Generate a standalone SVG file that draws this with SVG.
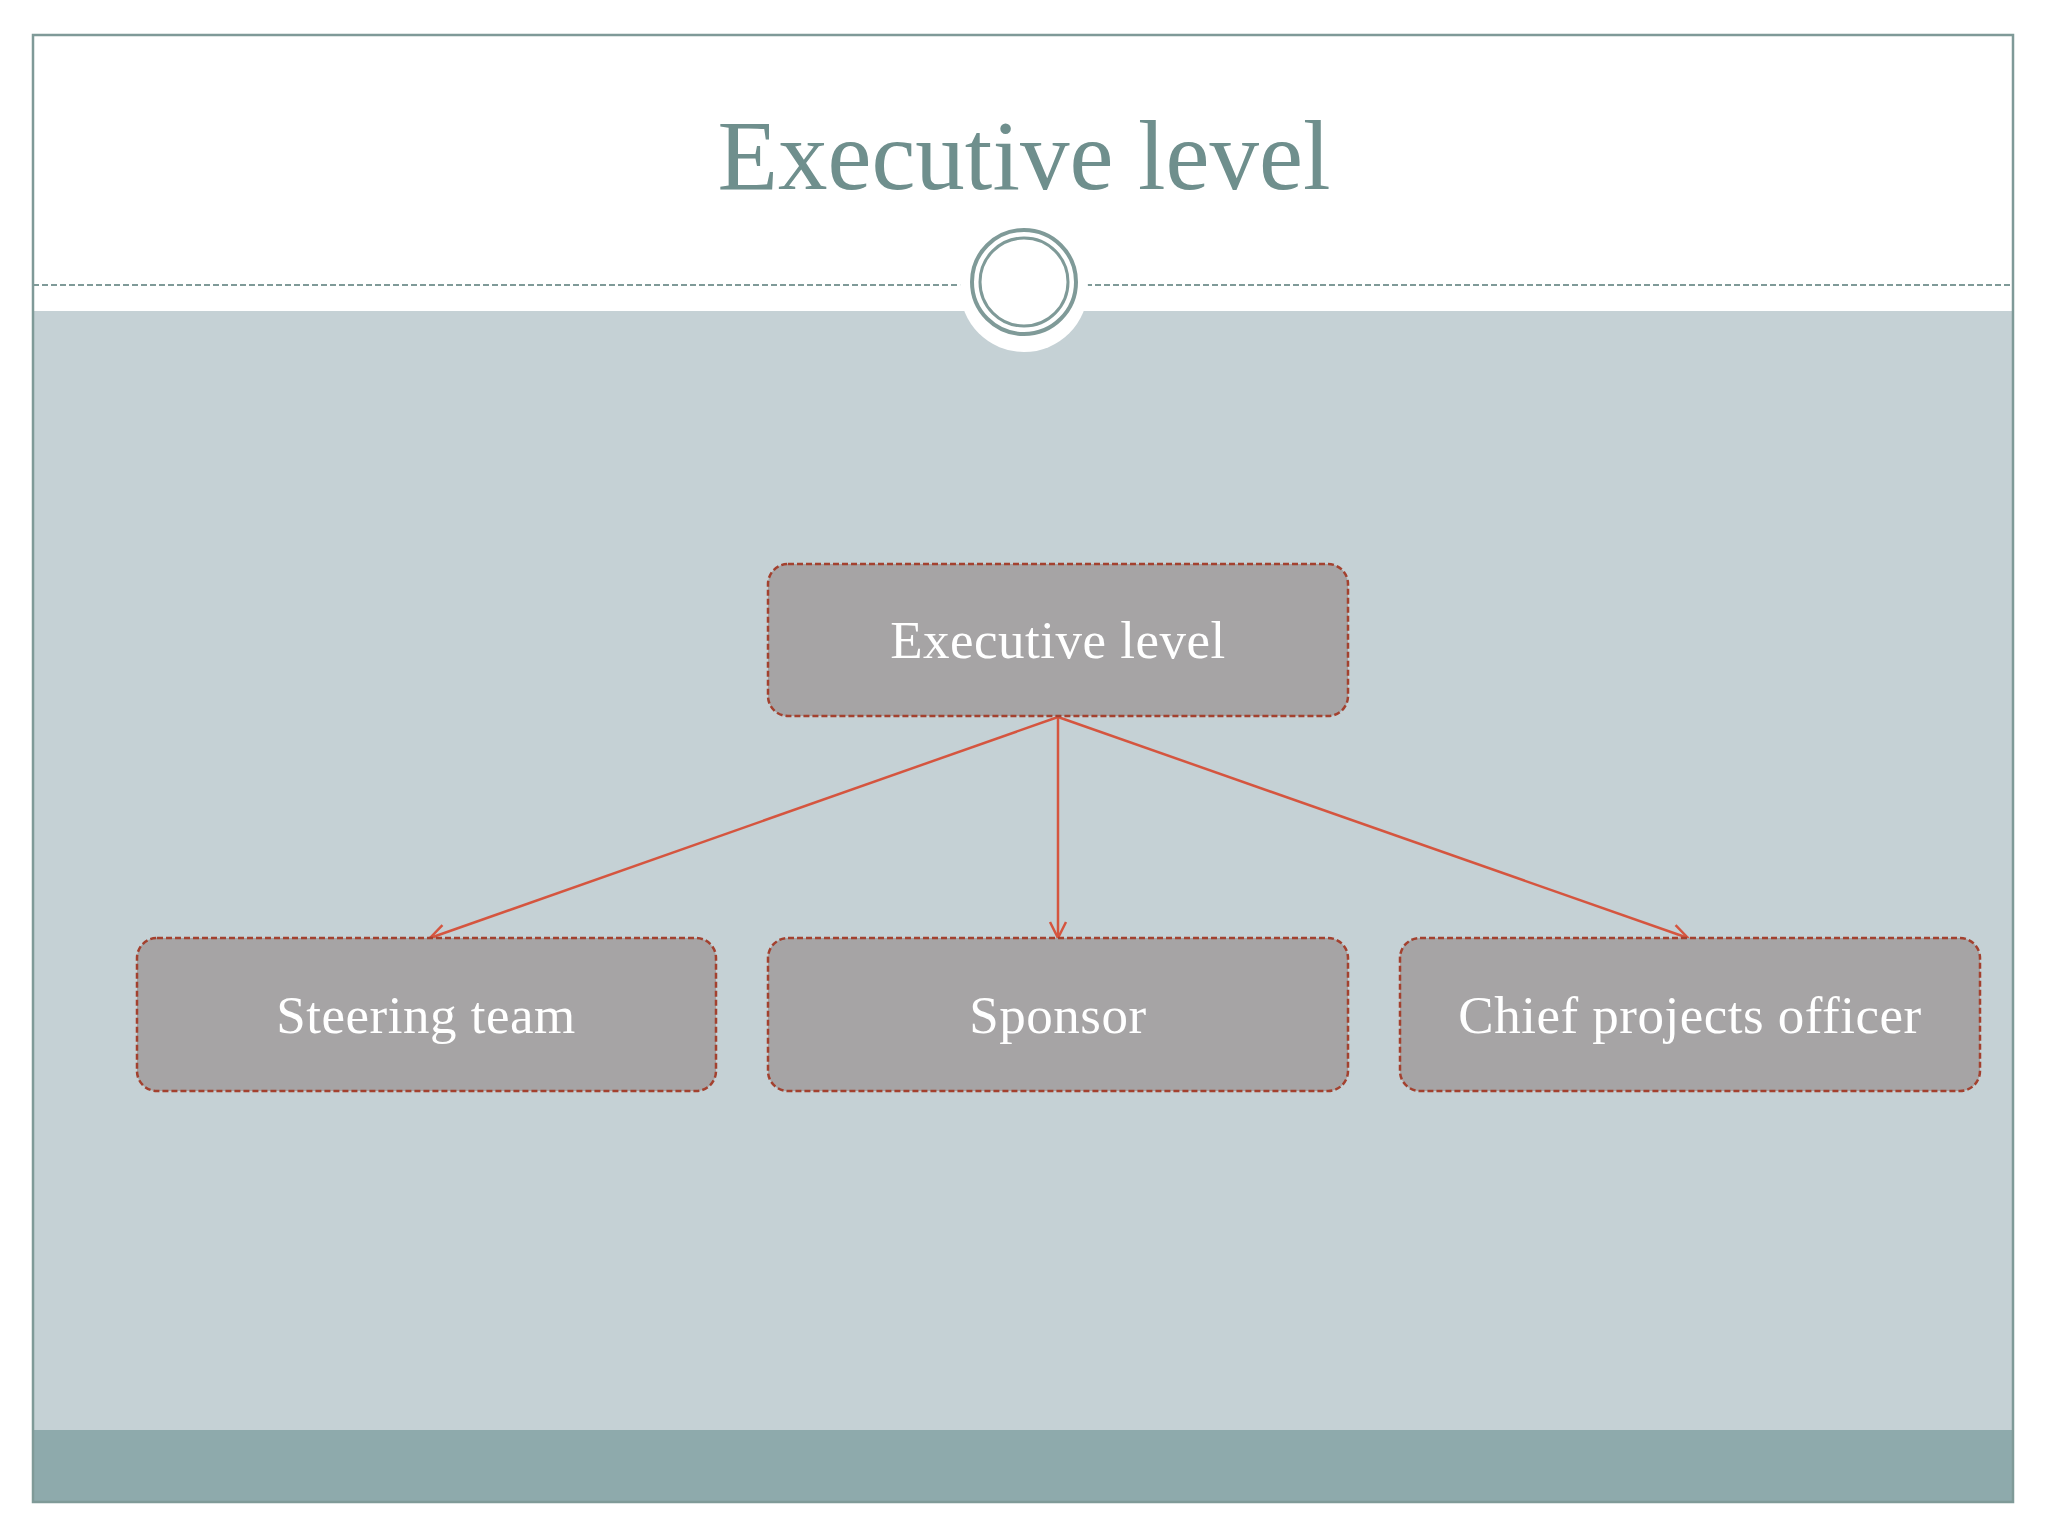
<svg xmlns="http://www.w3.org/2000/svg" width="2048" height="1536" viewBox="0 0 2048 1536">
<defs>
<style>
.box{fill:#a6a4a5;stroke:#a3412f;stroke-width:2.5;stroke-dasharray:6 3}
.lbl{font-family:"Liberation Serif",serif;font-size:53px;letter-spacing:0.5px;fill:#ffffff;text-anchor:middle}
.con{stroke:#d5553f;stroke-width:2.5;fill:none;marker-end:url(#ah)}
</style>
<marker id="ah" viewBox="0 0 20 20" refX="18" refY="10" markerWidth="20" markerHeight="20" markerUnits="userSpaceOnUse" orient="auto">
<path d="M2,2 L18,10 L2,18" fill="none" stroke="#d5553f" stroke-width="2.5"/>
</marker>
</defs>
<rect width="2048" height="1536" fill="#ffffff"/>
<rect x="33" y="311" width="1980" height="1119" fill="#c5d1d5"/>
<rect x="33" y="1430" width="1980" height="72" fill="#8eaaac"/>
<rect x="33" y="35" width="1980" height="1467" fill="none" stroke="#7f9a98" stroke-width="2.5"/>
<line x1="33" y1="285" x2="2013" y2="285" stroke="#7f9a98" stroke-width="2" stroke-dasharray="6 3"/>
<circle cx="1024" cy="288" r="64" fill="#ffffff"/>
<circle cx="1024" cy="282" r="52" fill="#ffffff" stroke="#7f9a98" stroke-width="4"/>
<circle cx="1024" cy="282" r="44" fill="none" stroke="#7f9a98" stroke-width="3"/>
<text x="1024" y="189" font-family="Liberation Serif,serif" font-size="99" fill="#6f8f8d" text-anchor="middle">Executive level</text>
<g id="connectors">
<line class="con" x1="1058" y1="717" x2="430" y2="938"/>
<line class="con" x1="1058" y1="717" x2="1058" y2="938"/>
<line class="con" x1="1058" y1="717" x2="1688" y2="938"/>
</g>
<g id="executive"><rect class="box" x="768" y="564" width="580" height="152" rx="20"/><text class="lbl" x="1058" y="658">Executive level</text></g>
<g id="steering"><rect class="box" x="137" y="938" width="579" height="153" rx="20"/><text class="lbl" x="426" y="1033">Steering team</text></g>
<g id="sponsor"><rect class="box" x="768" y="938" width="580" height="153" rx="20"/><text class="lbl" x="1058" y="1033">Sponsor</text></g>
<g id="cpo"><rect class="box" x="1400" y="938" width="580" height="153" rx="20"/><text class="lbl" x="1690" y="1033">Chief projects officer</text></g>
</svg>
